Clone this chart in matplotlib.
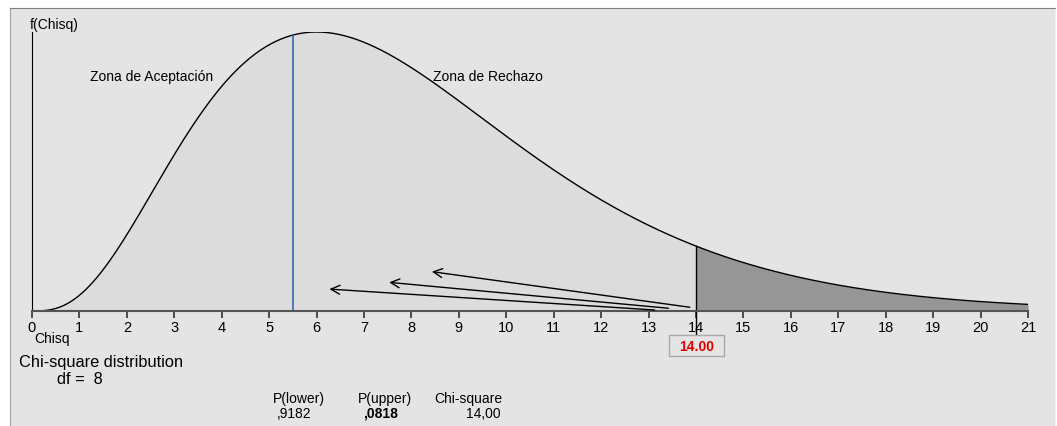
"""
Chi-square distribution, df = 8, upper tail from 14
"""

import math
import numpy as np
import matplotlib
matplotlib.use("Agg")
import matplotlib.pyplot as plt
from matplotlib.patches import Rectangle


DF = 8
CRITICAL = 14.0
MARKER_X = 5.5
X_MAX = 21
TICKS = list(range(0, 22))

# arrows: (tail_x, tail_y, head_x, head_y)
ARROW_TAIL_X = [13.87, 13.42, 13.13]
ARROW_TAIL_Y = [0.0015, 0.0011, 0.0004]
ARROW_HEAD_X = [8.43, 7.53, 6.27]
ARROW_HEAD_Y = [0.0158, 0.0115, 0.0088]

P_LOWER = ",9182"
P_UPPER = ",0818"
CHI_VALUE = "14,00"

BG = "#e4e4e4"
LIGHT = "#dcdcdc"
DARK = "#969696"

plt.rcParams["font.family"] = ["Liberation Sans", "DejaVu Sans"]


def chi2_pdf(x, k):
    x = np.asarray(x, dtype=float)
    c = 1.0 / (2 ** (k / 2) * math.gamma(k / 2))
    return c * x ** (k / 2 - 1) * np.exp(-x / 2)


def main():

    W, H = 1057, 427
    fig = plt.figure(figsize=(W / 100, H / 100), dpi=100)
    fig.patch.set_facecolor("white")

    # panel background
    bg = fig.add_axes([10 / W, 0, (W - 12) / W, (H - 9) / H])
    bg.set_facecolor(BG)
    bg.set_xticks([])
    bg.set_yticks([])
    bg.spines["bottom"].set_visible(False)
    bg.spines["top"].set_color("#808080")
    bg.spines["left"].set_color("#a0a0a0")
    bg.spines["right"].set_color("#f0f0f0")

    x0, x1 = 32, 1028
    base, top = 312, 33
    ax = fig.add_axes([x0 / W, (H - base) / H, (x1 - x0) / W, (base - top) / H])
    ax.patch.set_alpha(0)

    peak = float(chi2_pdf(DF - 2, DF))
    ax.set_xlim(0, X_MAX)
    ax.set_ylim(0, peak)

    xs = np.linspace(0, X_MAX, 800)
    ys = chi2_pdf(xs, DF)

    left = xs <= CRITICAL
    ax.fill_between(xs[left], 0, ys[left], color=LIGHT, lw=0)
    xr = np.linspace(CRITICAL, X_MAX, 300)
    ax.fill_between(xr, 0, chi2_pdf(xr, DF), color=DARK, lw=0)
    ax.plot(xs, ys, color="black", lw=1)

    ymark = float(chi2_pdf(MARKER_X, DF))
    ax.plot([MARKER_X, MARKER_X], [0, ymark], color="#2a5db0", lw=1.1)

    ycrit = float(chi2_pdf(CRITICAL, DF))
    ax.plot([CRITICAL, CRITICAL], [-0.0095, ycrit], color="black", lw=1,
            clip_on=False)

    for tx, ty, hx, hy in zip(ARROW_TAIL_X, ARROW_TAIL_Y,
                              ARROW_HEAD_X, ARROW_HEAD_Y):
        ax.annotate("", xy=(hx, hy), xytext=(tx, ty),
                    arrowprops=dict(arrowstyle="->", color="black", lw=1,
                                    mutation_scale=16, shrinkA=0, shrinkB=0))

    for side in ["top", "right"]:
        ax.spines[side].set_visible(False)
    ax.spines["left"].set_color("black")
    ax.spines["bottom"].set_color("#555555")
    ax.spines["bottom"].set_linewidth(1.5)
    ax.set_xticks(TICKS)
    ax.set_xticklabels([str(t) for t in TICKS], fontsize=10.5)
    ax.tick_params(axis="x", direction="out", length=5, width=1.2,
                   color="#333333", pad=1.5)
    ax.set_yticks([])

    # texts, placed in pixel fractions of the figure
    def ftext(px, py, s, **kw):
        fig.text(px / W, 1 - py / H, s, **kw)

    ftext(30, 25, "f(Chisq)", fontsize=10, va="center")
    ftext(90, 77, "Zona de Aceptación", fontsize=10, va="center")
    ftext(433, 77, "Zona de Rechazo", fontsize=10, va="center")
    ftext(34, 339, "Chisq", fontsize=10, va="center")
    ftext(19, 362, "Chi-square distribution", fontsize=11.8, va="center")
    ftext(57, 380, "df =  8", fontsize=11.8, va="center")
    ftext(273, 399, "P(lower)", fontsize=10, va="center")
    ftext(277, 414, P_LOWER, fontsize=10, va="center")
    ftext(358, 399, "P(upper)", fontsize=10, va="center")
    ftext(363, 414, P_UPPER, fontsize=10, va="center", fontweight="bold")
    ftext(434, 399, "Chi-square", fontsize=10, va="center")
    ftext(501, 414, CHI_VALUE, fontsize=10, va="center", ha="right")

    # value box under the critical line
    bx0, by0, bx1, by1 = 669, 336, 724, 357
    fig.patches.append(Rectangle((bx0 / W, 1 - by1 / H),
                                 (bx1 - bx0) / W, (by1 - by0) / H,
                                 transform=fig.transFigure, facecolor=BG,
                                 edgecolor="#a8a8a8", lw=1))
    ftext((bx0 + bx1) / 2, (by0 + by1) / 2 + 0.5, f"{CRITICAL:.2f}",
          fontsize=10, color="#e00000", fontweight="bold",
          ha="center", va="center")

    fig.savefig("out.png", dpi=100, facecolor=fig.get_facecolor())
    plt.close(fig)


if __name__ == "__main__":
    main()
